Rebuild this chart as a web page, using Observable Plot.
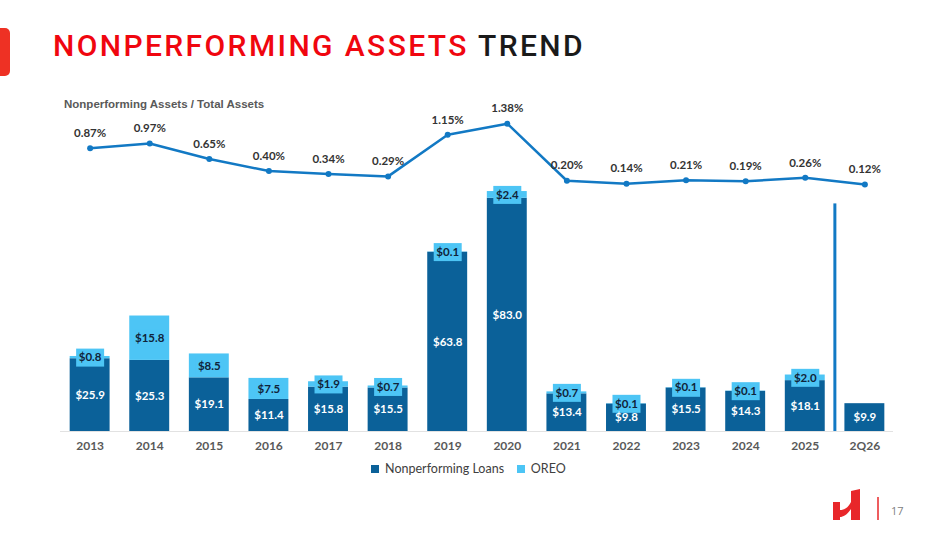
<!DOCTYPE html>
<html>
<head>
<meta charset="utf-8">
<script src="https://cdn.jsdelivr.net/npm/d3@7"></script>
<script src="https://cdn.jsdelivr.net/npm/@observablehq/plot@0.6"></script>
<style>
  body { margin: 0; background: #fff; }
  #page { position: relative; width: 949px; height: 534px; overflow: hidden; font-family: Lato, "Noto Sans", sans-serif; }
  #tab { position: absolute; left: -6px; top: 28px; width: 16px; height: 48px; background: #ee3124; border-radius: 5px; }
  #title { position: absolute; left: 53px; top: 28px; font-family: Roboto, "Noto Sans", sans-serif; font-weight: 500; font-size: 30px; letter-spacing: 2.4px; color: #f0060f; white-space: nowrap; }
  #title span { color: #1a1a1a; }
  #subtitle { position: absolute; left: 64px; top: 98px; font-family: "Liberation Sans", Arial, sans-serif; font-weight: bold; font-size: 11.5px; color: #595959; }
  #chart { position: absolute; left: 0; top: 92px; }
  #legend { position: absolute; left: 0; top: 452px; width: 949px; }
  #logo { position: absolute; left: 830px; top: 488px; }
  #pageno { position: absolute; left: 891px; top: 503px; font-family: "Open Sans", sans-serif; font-size: 11px; color: #808080; }
</style>
</head>
<body>
<div id="page">
  <div id="tab"></div>
  <div id="title">NONPERFORMING ASSETS <span>TREND</span></div>
  <div id="subtitle">Nonperforming Assets / Total Assets</div>
  <div id="chart"></div>
  <div id="legend"></div>
  <svg id="logo" width="55" height="36">
    <path d="M3 14 L10 14 L10 22 C14 22 18 20 21 14 L21 3 L30 1 L30 32 L21 32 L21 21 C17 27 13 29 10 29 L10 32 L3 32 Z" fill="#e8272a"/>
    <line x1="48" y1="9" x2="48" y2="32" stroke="#e8272a" stroke-width="1.5"/>
  </svg>
  <div id="pageno">17</div>
</div>
<script>
const years = ['2013', '2014', '2015', '2016', '2017', '2018', '2019', '2020', '2021', '2022', '2023', '2024', '2025', '2Q26']
const npl = [25.9, 25.3, 19.1, 11.4, 15.8, 15.5, 63.8, 83.0, 13.4, 9.8, 15.5, 14.3, 18.1, 9.9]
const oreo = [0.8, 15.8, 8.5, 7.5, 1.9, 0.7, 0.1, 2.4, 0.7, 0.1, 0.1, 0.1, 2.0, null]
const pctAssets = [0.87, 0.97, 0.65, 0.40, 0.34, 0.29, 1.15, 1.38, 0.20, 0.14, 0.21, 0.19, 0.26, 0.12]
const series = ['Nonperforming Loans', 'OREO']
const colors = ['#0b6199', '#4dc5f5']
const lineColor = '#1279c4'

// one row per year and series, loans first so they sit at the bottom of the stack
let rows = []
years.forEach((year, i) => {
  rows.push({year: year, series: series[0], value: npl[i]})
  if (oreo[i] != null) rows.push({year: year, series: series[1], value: oreo[i]})
})

let ratio = years.map((year, i) => ({year: year, pct: pctAssets[i]}))

// the ratio line shares the bar plot area: map percent onto the $ axis above the bars
let pctY = d3.scaleLinear().domain([0, 1]).range([85.8, 103.0])

// label box behind the OREO values
let box = {draw(context) { context.rect(-14, -9, 28, 18) }}

let money = d => '$' + d.value.toFixed(1)

let chart = Plot.plot({
  width: 949,
  height: 370,
  marginLeft: 50,
  marginRight: 45,
  marginTop: 8,
  marginBottom: 31,
  style: {fontFamily: 'Lato, "Noto Sans", sans-serif', background: 'transparent'},
  x: {domain: years, padding: 0.33, round: false},
  y: {domain: [0, 117.8], axis: null},
  color: {domain: series, range: colors},
  r: {type: 'identity'},
  marks: [
    Plot.ruleY([0], {stroke: '#e2e2e2', strokeWidth: 1, insetLeft: 10, insetRight: 11}),
    Plot.barY(rows, {x: 'year', y: 'value', z: 'series', fill: 'series'}),
    Plot.dot(rows, Plot.stackY({
      x: 'year', y: 'value', z: 'series',
      r: d => d.series === 'OREO' ? 9 : NaN,
      symbol: box, fill: colors[1], stroke: 'none',
    })),
    Plot.text(rows, Plot.stackY({
      x: 'year', y: 'value', z: 'series',
      text: d => d.series === 'OREO' ? null : money(d),
      fill: 'white', fontWeight: 'bold', fontSize: 11.5,
    })),
    Plot.text(rows, Plot.stackY({
      x: 'year', y: 'value', z: 'series',
      text: d => d.series === 'OREO' ? money(d) : null,
      fill: '#10243a', fontWeight: 'bold', fontSize: 11.5,
    })),
    Plot.ruleX(['2Q26'], {x: d => d, y1: 0, y2: 81, dx: -30, stroke: lineColor, strokeWidth: 3}),
    Plot.line(ratio, {x: 'year', y: d => pctY(d.pct), stroke: lineColor, strokeWidth: 2.5}),
    Plot.dot(ratio, {x: 'year', y: d => pctY(d.pct), r: 3, fill: lineColor}),
    Plot.text(ratio, {
      x: 'year', y: d => pctY(d.pct), dy: -15,
      text: d => d.pct.toFixed(2) + '%',
      fill: '#333', fontWeight: 'bold', fontSize: 11.5,
    }),
    Plot.axisX({label: null, tickSize: 0, tickPadding: 10, fontSize: 12, fontWeight: 'bold', fill: '#595959'}),
  ],
})
d3.select('#chart').append(() => chart)

let legend = Plot.legend({
  color: {domain: series, range: colors},
  swatchSize: 8,
  style: {fontSize: '12.5px', fontFamily: 'Lato, "Noto Sans", sans-serif', color: '#404040'},
})
legend.style.justifyContent = 'center'
d3.select('#legend').append(() => legend)
</script>
</body>
</html>
